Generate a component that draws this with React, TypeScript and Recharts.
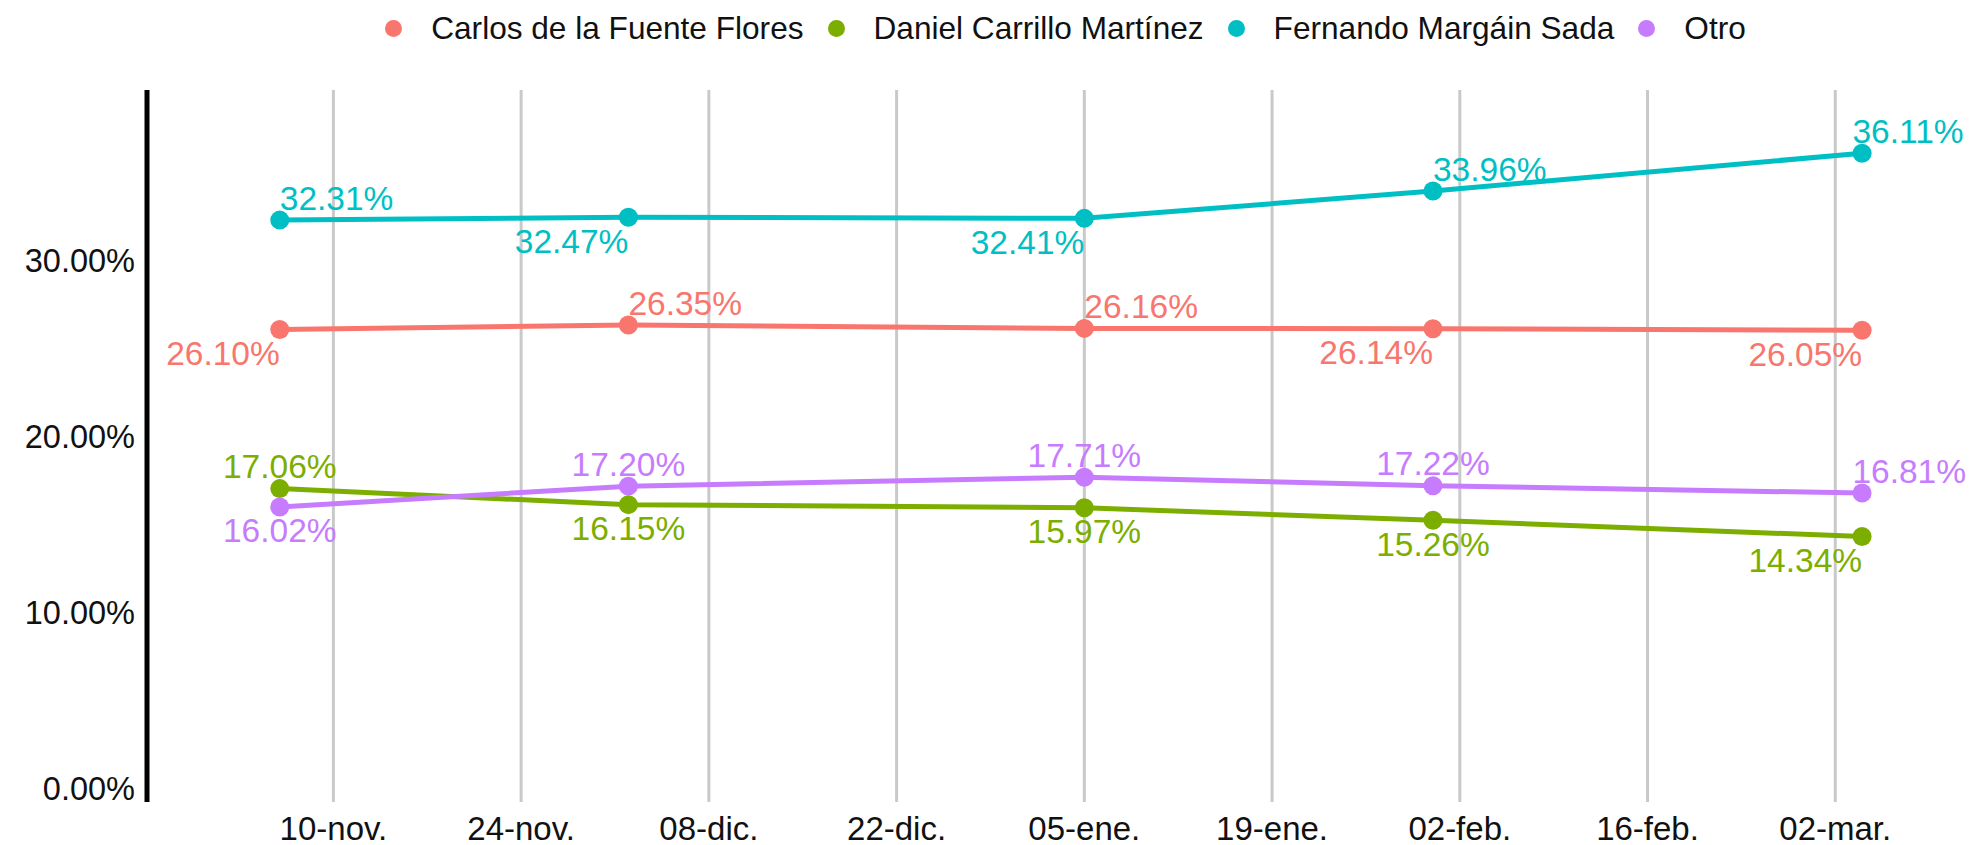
import React from 'react';
import { LineChart, Line, XAxis, YAxis, CartesianGrid, LabelList } from 'recharts';

// fechas de levantamiento de cada encuesta
const fechas = ['2017-11-06', '2017-12-02', '2018-01-05', '2018-01-31', '2018-03-04'];

// intención de voto (%)
const carlos = [26.1, 26.35, 26.16, 26.14, 26.05];
const daniel = [17.06, 16.15, 15.97, 15.26, 14.34];
const fernando = [32.31, 32.47, 32.41, 33.96, 36.11];
const otro = [16.02, 17.2, 17.71, 17.22, 16.81];

const tickFechas = [
  '2017-11-10', '2017-11-24', '2017-12-08', '2017-12-22', '2018-01-05',
  '2018-01-19', '2018-02-02', '2018-02-16', '2018-03-02',
];
const yTicks = [0, 10, 20, 30];
const meses = ['ene.', 'feb.', 'mar.', 'abr.', 'may.', 'jun.', 'jul.', 'ago.', 'sep.', 'oct.', 'nov.', 'dic.'];

// where each value label sits relative to its point
const posCarlos = ['dl', 'ur', 'ur', 'dl', 'dl'];
const posDaniel = ['u', 'd', 'd', 'd', 'dl'];
const posFernando = ['ur', 'dl', 'dl', 'ur', 'ur'];
const posOtro = ['d', 'u', 'u', 'u', 'ur'];

const DAY = 86400000;
const toTime = (s: string) => {
  const [y, m, d] = s.split('-').map(Number);
  return Date.UTC(y, m - 1, d);
};
const fmtFecha = (t: number) => {
  const d = new Date(t);
  return `${String(d.getUTCDate()).padStart(2, '0')}-${meses[d.getUTCMonth()]}`;
};

const data = fechas.map((f, i) => ({
  t: toTime(f),
  carlos: carlos[i],
  daniel: daniel[i],
  fernando: fernando[i],
  otro: otro[i],
}));

const series = [
  { key: 'carlos', name: 'Carlos de la Fuente Flores', color: '#F8766D', pos: posCarlos },
  { key: 'daniel', name: 'Daniel Carrillo Martínez', color: '#7CAE00', pos: posDaniel },
  { key: 'fernando', name: 'Fernando Margáin Sada', color: '#00BFC4', pos: posFernando },
  { key: 'otro', name: 'Otro', color: '#C77CFF', pos: posOtro },
];

const FONT = '"Liberation Sans", Arial, sans-serif';
const W = 1972;
const H = 845;
const LEFT = 147;
const RIGHT = 8;
const TOP = 90;
const BOTTOM = 43;
const LABEL_SIZE = 33.5;

const t0 = toTime(tickFechas[0]);
const xDomain = [t0 - 13.9 * DAY, t0 + 121.6 * DAY];
const xTickTimes = tickFechas.map(toTime);

const makeLabel = (color: string, pos: string[]) => (props: any) => {
  const { x, y, value, index } = props;
  const p = pos[index] || 'u';
  const up = p.startsWith('u');
  const anchor = p.endsWith('r') ? 'start' : p.endsWith('l') ? 'end' : 'middle';
  // keep right-hand labels inside the picture, like ggrepel does
  const approxW = LABEL_SIZE * 3.39;
  const lx = anchor === 'start' ? Math.min(x, W - 6 - approxW) : x;
  return (
    <text
      x={lx}
      y={y + (up ? -22 : 24)}
      textAnchor={anchor}
      dominantBaseline="central"
      fill={color}
      fontSize={LABEL_SIZE}
      fontFamily={FONT}
    >
      {`${Number(value).toFixed(2)}%`}
    </text>
  );
};

const XTick = (props: any) => {
  const { x, y, payload } = props;
  return (
    <text x={x} y={y + 26} textAnchor="middle" dominantBaseline="central" fill="#111" fontSize={33} fontFamily={FONT}>
      {fmtFecha(payload.value)}
    </text>
  );
};

const YTick = (props: any) => {
  const { x, y, payload } = props;
  return (
    <text x={x - 12} y={y} textAnchor="end" dominantBaseline="central" fill="#111" fontSize={32.5} fontFamily={FONT}>
      {`${Number(payload.value).toFixed(2)}%`}
    </text>
  );
};

// vertical grid only at the date ticks (same linear mapping as the x domain)
const gridX = () => {
  const pw = W - LEFT - RIGHT;
  return xTickTimes.map((t) => LEFT + ((t - xDomain[0]) / (xDomain[1] - xDomain[0])) * pw);
};

export default function App() {
  return (
    <div style={{ position: 'absolute', left: 0, top: 0, width: W, height: H, background: '#fff' }}>
      <div
        style={{
          position: 'absolute',
          left: LEFT + 10,
          top: 8,
          width: W - LEFT - RIGHT,
          height: 40,
          display: 'flex',
          justifyContent: 'center',
          alignItems: 'center',
          fontFamily: FONT,
          fontSize: 31.6,
          color: '#111',
        }}
      >
        {series.map((s) => (
          <div key={s.key} style={{ display: 'flex', alignItems: 'center', margin: '0 12px' }}>
            <span
              style={{ width: 17, height: 17, borderRadius: 9, background: s.color, display: 'inline-block', marginRight: 29 }}
            />
            <span>{s.name}</span>
          </div>
        ))}
      </div>
      <LineChart width={W} height={H} data={data} margin={{ top: TOP, right: RIGHT, bottom: 0, left: 0 }}>
        <CartesianGrid horizontal={false} stroke="#c9c9c9" strokeWidth={3} verticalCoordinatesGenerator={gridX} />
        <XAxis
          dataKey="t"
          type="number"
          scale="time"
          domain={xDomain}
          ticks={xTickTimes}
          allowDataOverflow
          height={BOTTOM}
          axisLine={false}
          tickLine={false}
          tickSize={0}
          tickMargin={0}
          tick={<XTick />}
          interval={0}
        />
        <YAxis
          type="number"
          domain={[-0.74, 39.7]}
          ticks={yTicks}
          allowDataOverflow
          width={LEFT}
          axisLine={{ stroke: '#000', strokeWidth: 5 }}
          tickLine={false}
          tickSize={0}
          tickMargin={0}
          tick={<YTick />}
          interval={0}
        />
        {series.map((s) => (
          <Line
            key={s.key}
            dataKey={s.key}
            name={s.name}
            type="linear"
            stroke={s.color}
            strokeWidth={5}
            dot={{ r: 9.5, fill: s.color, stroke: s.color, strokeWidth: 0 }}
            activeDot={false}
            isAnimationActive={false}
          >
            <LabelList dataKey={s.key} content={makeLabel(s.color, s.pos)} />
          </Line>
        ))}
      </LineChart>
    </div>
  );
}
